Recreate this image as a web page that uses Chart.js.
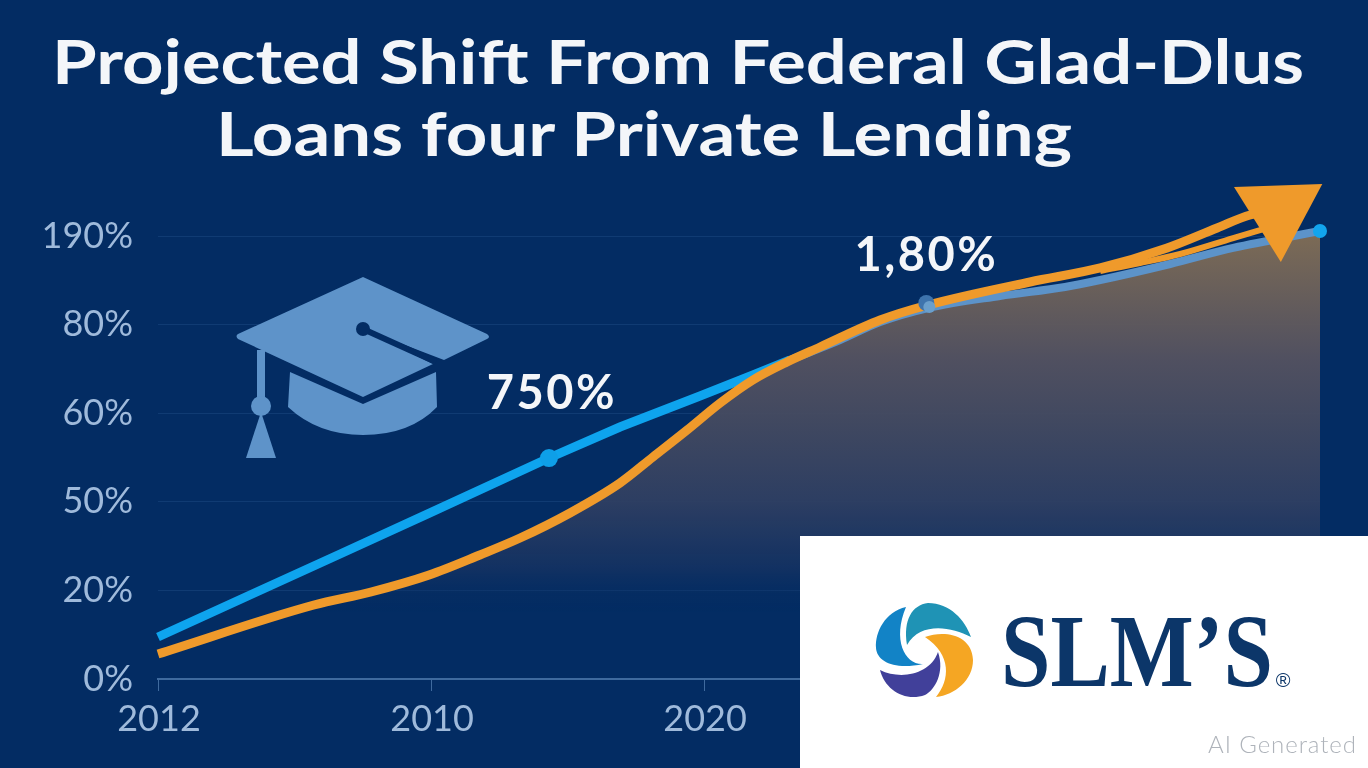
<!DOCTYPE html>
<html>
<head>
<meta charset="utf-8">
<title>Projected Shift</title>
<script src="https://cdn.jsdelivr.net/npm/chart.js@4"></script>
<style>
  html, body { margin: 0; padding: 0; background: #032c63; overflow: hidden; }
  #wrap { position: relative; width: 1368px; height: 768px; }
  #grafico { position: absolute; left: 0; top: 0; }
  #extras { position: absolute; left: 0; top: 0; pointer-events: none; }
</style>
</head>
<body>
<div id="wrap">
  <canvas id="grafico" width="1368" height="768"></canvas>
  <svg id="extras" width="1368" height="768" viewBox="0 0 1368 768">
    <g font-family="Lato" font-weight="700" fill="#f4f6f9" font-size="62">
      <text x="52" y="84" textLength="1252" lengthAdjust="spacingAndGlyphs">Projected Shift From Federal Glad-Dlus</text>
      <text x="216" y="156" textLength="856" lengthAdjust="spacingAndGlyphs">Loans four Private Lending</text>
    </g>
    <!-- capelo -->
    <g fill="#5e93c9">
      <path d="M363 277 L487 334 Q491 337 487 339 L444 360 L363 329 Z M363 277 L238 334 Q235 336 238 339 L363 397 L433 364 L363 329 Z"/>
      <path d="M290 372 L363 404 L436 372 L437 407 Q410 435 363 435 Q318 435 288 407 Z"/>
      <rect x="257" y="350" width="8" height="52"/>
      <circle cx="261" cy="406" r="10"/>
      <path d="M261 412 L246 458 L276 458 Z"/>
    </g>
    <path d="M363 329 L436 362" stroke="#032c63" stroke-width="6" fill="none"/>
    <circle cx="363" cy="329" r="7" fill="#032c63"/>
    <!-- logo -->
    <rect x="800" y="536" width="568" height="232" fill="#ffffff"/>
    <path d="M907 645 C903 620 912 605 928 603 C950 603 965 620 971 637 C950 626 920 622 907 645 Z" fill="#1f93b5"/>
    <path d="M906 607 C885 612 875 632 876 648 C877 662 895 670 923 664 C905 665 892 640 906 607 Z" fill="#1283c6"/>
    <path d="M925 637 C945 630 972 635 973 660 C973 680 955 695 936 697 C950 680 952 655 925 637 Z" fill="#f5a623"/>
    <path d="M880 670 C900 680 930 675 938 652 C945 672 935 690 925 695 C905 702 885 690 880 670 Z" fill="#41409a"/>
    <text x="1001" y="686" font-family="Liberation Serif" font-weight="700" font-size="104" fill="#0c3669" textLength="272" lengthAdjust="spacingAndGlyphs">SLM’S</text>
    <text x="1283" y="687" font-family="Liberation Sans" font-weight="400" font-size="20" fill="#0c3669" text-anchor="middle">®</text>
    <text x="1208" y="753" font-family="Lato" font-weight="300" font-size="24" fill="#aeb3ba" textLength="148">AI Generated</text>
  </svg>
</div>
<script>
// posicoes dos eixos
const xTickLabels = ['2012', '2010', '2020'];
const yTickLabels = ['0%', '20%', '50%', '60%', '80%', '190%'];

// linha azul
const blueX = [0, 0.337, 0.667, 0.996, 1.432, 1.692, 1.985, 2.179, 2.315];
const blueY = [0.474, 0.948, 1.411, 1.874, 2.494, 2.844, 3.194, 3.431, 3.6];

// linha azul clara (continuacao)
const steelX = [2.315, 2.498, 2.645, 2.821, 3.084, 3.322, 3.451, 3.707, 3.938, 4.256];
const steelY = [3.6, 3.826, 4.029, 4.187, 4.323, 4.424, 4.503, 4.684, 4.865, 5.056];

// linha laranja
const orangeX = [0, 0.571, 0.78, 0.993, 1.179, 1.326, 1.509, 1.692, 1.813, 1.938, 2.059, 2.179, 2.304, 2.425, 2.645, 2.821, 3.194, 3.451, 3.696, 3.879, 4, 4.106];
const orangeY = [0.282, 0.835, 0.982, 1.174, 1.4, 1.591, 1.874, 2.212, 2.506, 2.81, 3.115, 3.375, 3.578, 3.747, 4.052, 4.221, 4.481, 4.639, 4.865, 5.09, 5.237, 5.282];

// ponta dupla da seta
const branchX = [3.451, 3.597, 3.744, 3.938, 4.062];
const branchY = [4.605, 4.695, 4.797, 4.977, 5.09];

// marcadores e rotulos
const markerX = [1.432, 2.814, 2.825, 4.256];
const markerY = [2.494, 4.244, 4.199, 5.056];
const labelTexts = ['750%', '1,80%'];

const toPoints = (xs, ys) => xs.map((x, i) => ({ x: x, y: ys[i] }));

// area: segue a laranja ate o cruzamento, depois a azul clara
const areaPoints = toPoints(orangeX.slice(0, 13), orangeY.slice(0, 13))
  .concat(toPoints(steelX.slice(1), steelY.slice(1)));

const areaGradient = (c) => {
  const area = c.chart.chartArea;
  if (!area) return 'transparent';
  const g = c.chart.ctx.createLinearGradient(0, area.top, 0, area.bottom);
  g.addColorStop(0, 'rgba(130,110,85,0.95)');
  g.addColorStop(0.28, 'rgba(84,82,96,0.95)');
  g.addColorStop(0.42, 'rgba(68,74,96,0.95)');
  g.addColorStop(0.6, 'rgba(47,63,98,0.95)');
  g.addColorStop(0.75, 'rgba(20,50,98,0.9)');
  g.addColorStop(0.85, 'rgba(3,44,99,0)');
  return g;
};

const labelPlugin = {
  id: 'rotulos',
  afterDatasetsDraw(chart) {
    const ctx = chart.ctx;
    const x = chart.scales.x;
    const y = chart.scales.y;
    const offsets = [[3, -64], [0, -47]];
    ctx.save();
    ctx.font = '700 47px Lato';
    ctx.letterSpacing = '2.5px';
    ctx.fillStyle = '#f4f6f9';
    ctx.textAlign = 'center';
    ctx.textBaseline = 'middle';
    labelTexts.forEach((t, i) => {
      ctx.fillText(t, x.getPixelForValue(markerX[i]) + offsets[i][0], y.getPixelForValue(markerY[i]) + offsets[i][1]);
    });
    ctx.restore();
  }
};

new Chart(document.getElementById('grafico').getContext('2d'), {
  type: 'line',
  data: {
    datasets: [
      { data: areaPoints, order: 6, borderWidth: 0, pointRadius: 0, cubicInterpolationMode: 'monotone', fill: 'origin', backgroundColor: areaGradient, clip: false },
      { data: toPoints(steelX, steelY), order: 5, borderColor: '#5c93c9', borderWidth: 8, pointRadius: 0, cubicInterpolationMode: 'monotone', clip: false },
      { data: toPoints(blueX, blueY), order: 4, borderColor: '#0ea4ee', borderWidth: 9, pointRadius: 0, tension: 0, clip: false },
      { data: toPoints(branchX, branchY), order: 3, borderColor: '#ef9a2b', borderWidth: 6, pointRadius: 0, cubicInterpolationMode: 'monotone', clip: false },
      {
        data: toPoints(orangeX, orangeY), order: 2, borderColor: '#ef9a2b', borderWidth: 9, cubicInterpolationMode: 'monotone', clip: false,
        pointStyle: 'triangle', pointRotation: 178, pointBorderWidth: 0, pointBackgroundColor: '#ef9a2b',
        pointRadius: orangeX.map((v, i) => (i === orangeX.length - 1 ? 51 : 0))
      },
      {
        data: toPoints(markerX, markerY), order: 1, showLine: false, clip: false, pointBorderWidth: 0,
        pointRadius: [9, 8, 6, 7],
        pointBackgroundColor: ['#0e9fe8', '#3e74ad', '#6a9fcc', '#12a5ee']
      }
    ]
  },
  options: {
    responsive: false,
    animation: false,
    layout: { autoPadding: false, padding: { top: 236, right: 48, left: 0, bottom: 0 } },
    plugins: { legend: { display: false }, tooltip: { enabled: false }, title: { display: false } },
    scales: {
      x: {
        type: 'linear',
        min: 0,
        max: 4.256,
        afterFit: (s) => { s.height = 89; },
        border: { color: '#3f6a9e', width: 2 },
        grid: { drawOnChartArea: false, drawTicks: true, tickLength: 12, color: '#3f6a9e', tickColor: '#3f6a9e' },
        ticks: {
          stepSize: 1,
          maxRotation: 0,
          padding: 7,
          labelOffset: 1,
          color: '#9fbadb',
          font: { family: 'Lato', size: 36, weight: '400' },
          callback: (v) => xTickLabels[v] || ''
        }
      },
      y: {
        min: 0,
        max: 5,
        afterFit: (s) => { s.width = 158; },
        border: { display: false },
        grid: { color: 'rgba(90,140,200,0.16)', drawTicks: false },
        ticks: {
          stepSize: 1,
          padding: 25,
          color: '#9fbadb',
          font: { family: 'Lato', size: 36, weight: '400' },
          callback: (v) => yTickLabels[v]
        }
      }
    }
  },
  plugins: [labelPlugin]
});
</script>
</body>
</html>
